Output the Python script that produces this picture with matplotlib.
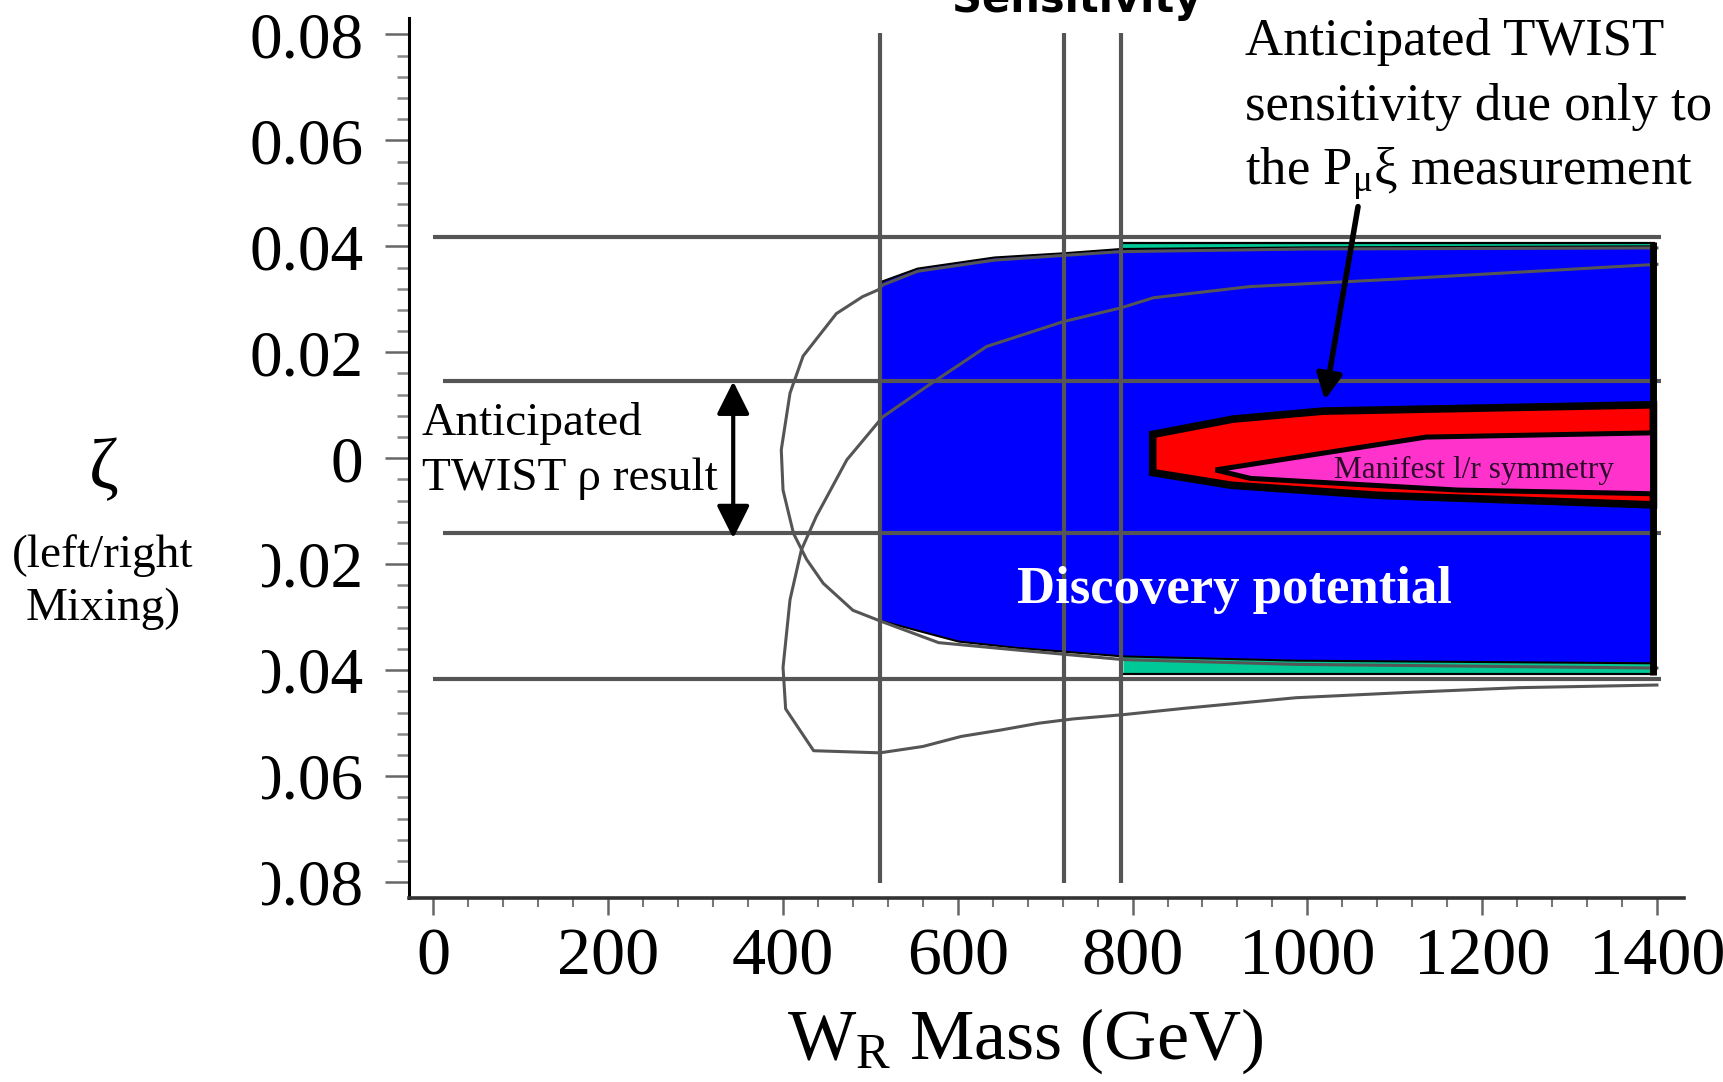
import numpy as np
import matplotlib
matplotlib.use("Agg")
import matplotlib.pyplot as plt
from matplotlib.ticker import MultipleLocator
from matplotlib.patches import Rectangle

# --- values (W_R mass in GeV, zeta) ---
x_ticks = [0, 200, 400, 600, 800, 1000, 1200, 1400]
y_ticks = [0.08, 0.06, 0.04, 0.02, 0.0, -0.02, -0.04, -0.06, -0.08]
y_tick_labels = ["0.08", "0.06", "0.04", "0.02", "0", "0.02", "0.04", "0.06", "0.08"]

# horizontal / vertical limit lines
hline_y = [0.0418, 0.0145, -0.0142, -0.0416]
hline_x0 = [-1, 11, 11, -1]
hline_x1 = 1405
vline_x = [511, 722, 787]
vline_y = (-0.0801, 0.0803)

# discovery potential (blue) region
blue_top_x = [510, 514, 554, 642, 722, 787, 1000, 1397]
blue_top_y = [0.0322, 0.0334, 0.0358, 0.0379, 0.0387, 0.0395, 0.0398, 0.0400]
blue_bot_x = [510, 601, 668, 789, 987, 1397]
blue_bot_y = [-0.0306, -0.0346, -0.0358, -0.0374, -0.0382, -0.0387]
teal_top_x = [787, 1000, 1397]
teal_top_lo = [0.0395, 0.0398, 0.0400]
teal_top_hi = 0.0407
teal_bot_x = [789, 987, 1397]
teal_bot_hi = [-0.0374, -0.0382, -0.0387]
teal_bot_lo = -0.0408

# gray contour A (closes round the blue region)
curve_a_x = [1400, 1000, 787, 722, 642, 554, 514, 509, 491, 461, 423, 408, 398,
             400, 412, 427, 446, 480, 511, 578, 668, 789, 987, 1400]
curve_a_y = [0.0397, 0.0395, 0.0390, 0.0383, 0.0374, 0.0353, 0.0327, 0.0318,
             0.0305, 0.0273, 0.0193, 0.0123, 0.0016, -0.0060, -0.0142, -0.0191,
             -0.0236, -0.0287, -0.0307, -0.0348, -0.0362, -0.0380, -0.0389, -0.0396]

# gray contour B
curve_b_x = [1400, 1250, 1100, 934, 824, 787, 721, 633, 564, 514, 473, 438, 421,
             408, 400, 403, 435, 511, 560, 604, 649, 693, 732, 789, 859, 987,
             1114, 1242, 1400]
curve_b_y = [0.0366, 0.0352, 0.0338, 0.0324, 0.0303, 0.0284, 0.0258, 0.0211,
             0.0135, 0.0078, -0.0003, -0.0110, -0.0173, -0.0267, -0.0395,
             -0.0473, -0.0552, -0.0556, -0.0544, -0.0525, -0.0513, -0.0500,
             -0.0492, -0.0484, -0.0472, -0.0452, -0.0442, -0.0433, -0.0428]

# P_mu xi sensitivity (red) and manifest l/r symmetry (pink)
red_x = [823, 823, 915, 1018, 1396, 1396, 1081, 913]
red_y = [-0.0027, 0.0045, 0.0074, 0.0089, 0.0101, -0.0088, -0.0070, -0.0051]
pink_x = [895, 1136, 1396, 1396, 1172, 935]
pink_y = [-0.0022, 0.0040, 0.0048, -0.0067, -0.0060, -0.0038]

# arrows
rho_arrow_x = 343
rho_arrow_y = (0.0145, -0.0151)
pxi_arrow_from = (1058, 0.0475)
pxi_arrow_to = (1020, 0.0110)

plt.rcParams["font.family"] = ["Liberation Serif", "DejaVu Serif"]
plt.rcParams["mathtext.fontset"] = "custom"
plt.rcParams["mathtext.rm"] = "Liberation Serif"
plt.rcParams["mathtext.it"] = "Liberation Serif:italic"

W, H = 1724, 1082
fig = plt.figure(figsize=(W / 100, H / 100), dpi=100)
ax = fig.add_axes([409 / W, 1 - 898 / H, (1684 - 409) / W, (898 - 18) / H])
ax.set_xlim(-28, 1431)
ax.set_ylim(-0.0830, 0.0831)

gray = "#555555"

# regions
ax.fill_between(teal_top_x, teal_top_lo, teal_top_hi, color="#00c896", lw=0, zorder=1)
ax.fill_between(teal_bot_x, teal_bot_hi, teal_bot_lo, color="#00c896", lw=0, zorder=1)
ax.plot([787, 1397], [teal_top_hi, teal_top_hi], color="k", lw=1.6, zorder=1.2)
ax.plot([789, 1397], [teal_bot_lo, teal_bot_lo], color="k", lw=1.6, zorder=1.2)
ax.fill(np.r_[blue_top_x, blue_bot_x[::-1]], np.r_[blue_top_y, blue_bot_y[::-1]],
        facecolor="#0000ff", edgecolor="k", lw=1.5, zorder=1.1)

# limit lines
for y, x0 in zip(hline_y, hline_x0):
    ax.plot([x0, hline_x1], [y, y], color=gray, lw=3, zorder=2, solid_capstyle="butt")
for x in vline_x:
    ax.plot([x, x], vline_y, color=gray, lw=3, zorder=2, solid_capstyle="butt")

# contours
ax.plot(curve_a_x, curve_a_y, color=gray, lw=2.2, zorder=2.5)
ax.plot(curve_b_x, curve_b_y, color=gray, lw=2.2, zorder=2.5)

# red and pink regions
ax.fill(red_x, red_y, facecolor="#ff0000", edgecolor="k", lw=5.5, zorder=3,
        joinstyle="miter")
ax.fill(pink_x, pink_y, facecolor="#ff33cc", edgecolor="k", lw=3.6, zorder=3.1,
        joinstyle="miter")
ax.plot([1396, 1396], [teal_top_hi + 0.0002, teal_bot_lo - 0.0002], color="k",
        lw=5, zorder=3.5, solid_capstyle="butt")

# arrows
ax.annotate("", xy=(rho_arrow_x, rho_arrow_y[0]), xytext=(rho_arrow_x, rho_arrow_y[1]),
            arrowprops=dict(arrowstyle="<|-|>", color="k", lw=3, mutation_scale=50,
                            shrinkA=0, shrinkB=0), zorder=4)
ax.annotate("", xy=pxi_arrow_to, xytext=pxi_arrow_from,
            arrowprops=dict(arrowstyle="-|>", color="k", lw=4, mutation_scale=38,
                            shrinkA=0, shrinkB=0), zorder=4)

# axes styling
for s in ["top", "right"]:
    ax.spines[s].set_visible(False)
ax.spines["left"].set_linewidth(2.2)
ax.spines["left"].set_color("k")
ax.spines["bottom"].set_linewidth(2.6)
ax.spines["bottom"].set_color("#333333")

ax.set_xticks(x_ticks)
ax.set_xticklabels([str(v) for v in x_ticks])
ax.set_yticks(y_ticks)
ax.set_yticklabels(y_tick_labels)
ax.xaxis.set_minor_locator(MultipleLocator(40))
ax.yaxis.set_minor_locator(MultipleLocator(0.004))
ax.tick_params(axis="x", which="major", length=12, width=1.8, color="#666666",
               pad=9, labelsize=49)
ax.tick_params(axis="x", which="minor", length=6.5, width=1.5, color="#777777")
ax.tick_params(axis="y", which="major", length=17, width=1.8, color="#666666",
               pad=16, labelsize=47)
ax.tick_params(axis="y", which="minor", length=8.5, width=1.8, color="#888888")

# text inside the plot
ax.text(668, -0.0274, "Discovery potential", color="white",
        fontsize=38, fontweight="bold", ha="left", va="baseline", zorder=5)
ax.text(1030, -0.0038, "Manifest l/r symmetry", color="#2b0a2b",
        fontsize=22.5, ha="left", va="baseline", zorder=5)

# figure-level labels (va="baseline" on multi-line text = last line baseline)
fig.patches.append(Rectangle((0, 0.05), 262 / W, 1 - 490 / H - 0.05,
                             transform=fig.transFigure, facecolor="white",
                             edgecolor="none", zorder=1))
fig.text(421.7 / W, 1 - 490 / H, "Anticipated\nTWIST \u03c1 result", fontsize=34,
         ha="left", va="baseline", linespacing=1.38)
fig.text(1245 / W, 1 - 55 / H, "Anticipated TWIST", fontsize=38, ha="left", va="baseline")
fig.text(1245 / W, 1 - 120 / H, "sensitivity due only to", fontsize=38, ha="left",
         va="baseline")
fig.text(1245 / W, 1 - 185 / H, "the P$_\\mathrm{\u03bc}$\u03be measurement", fontsize=38,
         ha="left", va="baseline")
fig.text(104 / W, 1 - 471 / H, "\u03b6", fontsize=52, ha="center", va="center")
fig.text(103 / W, 1 - 620 / H, "(left/right\nMixing)", fontsize=34, ha="center",
         va="baseline", linespacing=1.33)
fig.text(1025 / W, 1 - 1059 / H, "W$_\\mathrm{R}$ Mass (GeV)", fontsize=52,
         ha="center", va="baseline")
fig.text(1077 / W, 1 - 12 / H, "Sensitivity", fontsize=30, fontweight="bold",
         family="DejaVu Sans", ha="center", va="baseline")

fig.savefig("out.png", dpi=100)
